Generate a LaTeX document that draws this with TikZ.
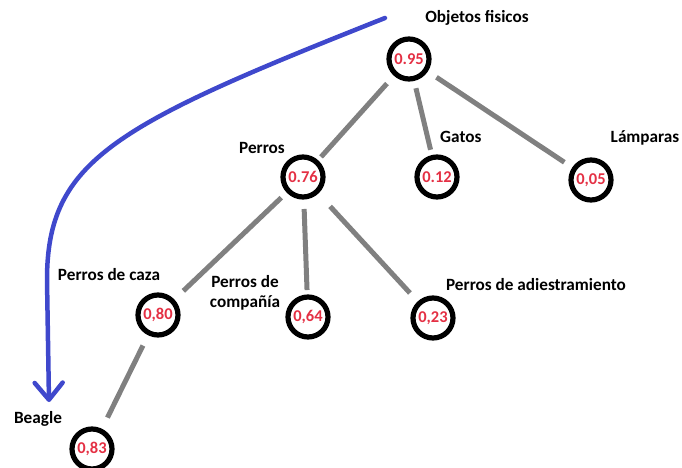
\documentclass[tikz,border=0pt]{standalone}
\usepackage{fontspec}
\setmainfont{Carlito}
\usetikzlibrary{arrows.meta}
\definecolor{numred}{RGB}{228,48,68}
\definecolor{arrowblue}{RGB}{63,72,204}
\definecolor{edgegray}{RGB}{128,128,128}
\begin{document}
\begin{tikzpicture}[x=1pt,y=-1pt,
  val/.style={circle,draw=black,line width=5.2pt,minimum size=40pt,inner sep=0pt,outer sep=0pt,
    text=numred,font=\fontsize{16.5}{16.5}\selectfont\bfseries},
  lab/.style={font=\fontsize{17.2}{19.5}\selectfont\bfseries,text=black,inner sep=0pt},
  edge/.style={draw=edgegray,line width=5pt},
  jump/.style={draw=arrowblue,line width=4.5pt,-{Straight Barb[length=17pt,width=28pt,line cap=round,line join=round]}}]
\useasboundingbox (0,0) rectangle (682,468);
% value circles
\node[val] (obj) at (409,59) {0.95};
\node[val] (perros) at (303,177) {0.76};
\node[val] (gatos) at (437,177) {0.12};
\node[val] (lamp) at (591,180) {0,05};
\node[val] (caza) at (158,315) {0,80};
\node[val] (comp) at (308,317) {0,64};
\node[val] (adies) at (433,318) {0,23};
\node[val] (beagle) at (92,449) {0,83};
% labels
\node[lab] (lobj) at (477,18) {Objetos fisicos};
\node[lab] (lperros) at (262,148) {Perros};
\node[lab,anchor=west] (lgatos) at (440,137) {Gatos};
\node[lab] (llamp) at (645,138) {Lámparas};
\node[lab] (lcaza) at (109,275) {Perros de caza};
\node[lab,align=center] (lcomp) at (245,293) {Perros de\\compañía};
\node[lab] (ladies) at (536,285) {Perros de adiestramiento};
\node[lab] (lbeagle) at (38,419) {Beagle};
% edges
\draw[edge,shorten <=13pt,shorten >=7pt] (obj) -- (perros);
\draw[edge,shorten <=10pt,shorten >=8pt] (obj) -- (gatos);
\draw[edge,shorten <=13pt,shorten >=12pt] (obj) -- (lamp);
\draw[edge,shorten <=10pt,shorten >=15pt] (perros) -- (caza);
\draw[edge,shorten <=12pt,shorten >=7pt] (perros) -- (comp);
\draw[edge,shorten <=20pt,shorten >=14pt] (perros) -- (adies);
\draw[edge,shorten <=14pt,shorten >=15pt] (caza) -- (beagle);
% blue arrow
\coordinate (js) at (385,18);
\coordinate (jm) at (47,280);
\coordinate (je) at (49,402);
\draw[jump,line cap=round] (js) .. controls (115,125) and (47,160) .. (jm) -- (je);
\end{tikzpicture}
\end{document}
